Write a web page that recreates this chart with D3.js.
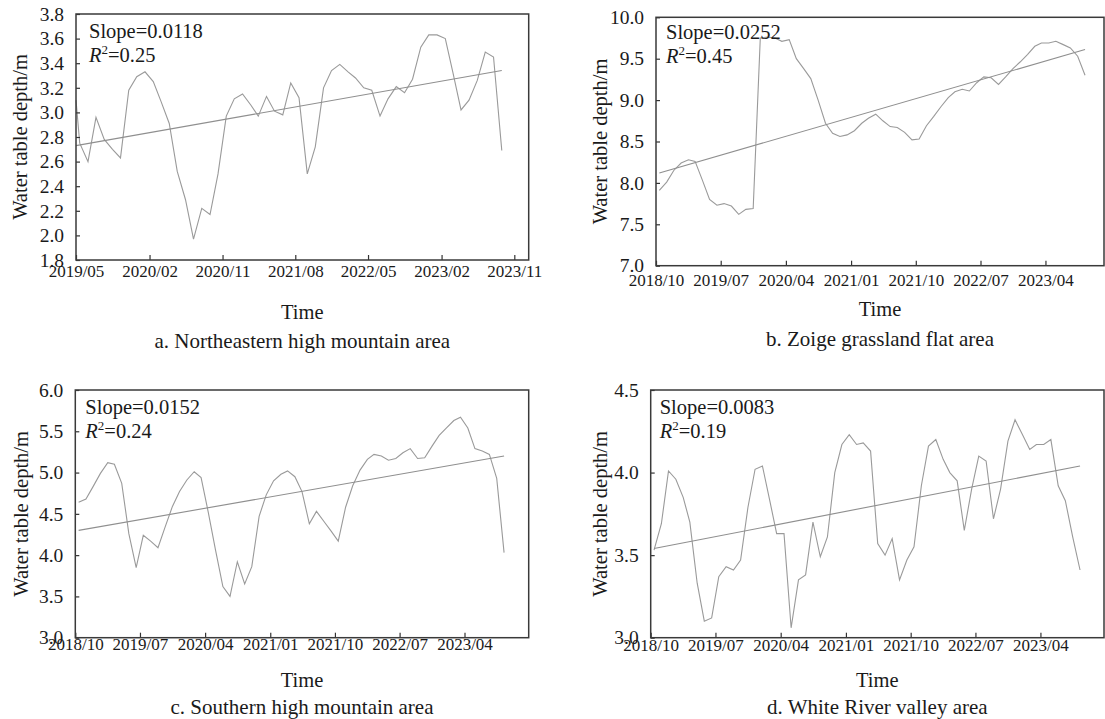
<!DOCTYPE html>
<html><head><meta charset="utf-8">
<script src="https://cdn.jsdelivr.net/npm/d3@7"></script>
<style>
body{margin:0;background:#fff;}
svg text{font-family:"Liberation Serif","Times New Roman",serif;fill:#1a1a1a;}
</style></head><body>
<svg id="chart" width="1105" height="719"></svg>
<script>
// ---------- data ----------
const aTickLabels = ["2019/05","2020/02","2020/11","2021/08","2022/05","2023/02","2023/11"];
const bcdTickLabels = ["2018/10","2019/07","2020/04","2021/01","2021/10","2022/07","2023/04"];

const aStart = "2019/05";
const aLead = {date: "2019/05/01", value: 3.10};
const aValues = [2.75,2.60,2.96,2.78,2.70,2.63,3.18,3.29,3.33,3.25,3.09,2.91,2.52,2.29,1.97,2.22,2.17,2.50,
  2.97,3.11,3.15,3.06,2.97,3.13,3.01,2.98,3.24,3.12,2.50,2.72,3.20,3.34,3.39,3.33,3.28,3.20,3.18,2.97,
  3.11,3.21,3.16,3.27,3.53,3.63,3.63,3.60,3.33,3.02,3.10,3.26,3.49,3.45,2.69];
const aTrend = [2.73, 3.34];

const bStart = "2018/10";
const bValues = [7.91,8.01,8.15,8.24,8.28,8.26,8.03,7.80,7.73,7.75,7.72,7.62,7.68,7.69,9.75,9.76,9.75,9.71,
  9.73,9.50,9.38,9.26,9.00,8.72,8.60,8.56,8.58,8.63,8.72,8.78,8.83,8.75,8.68,8.67,8.61,8.52,8.53,8.69,
  8.80,8.92,9.03,9.10,9.13,9.11,9.21,9.28,9.27,9.19,9.28,9.38,9.46,9.55,9.65,9.69,9.69,9.71,9.67,9.63,9.53,9.30];
const bTrend = [8.12, 9.61];

const cStart = "2018/10";
const cValues = [4.64,4.68,4.83,4.99,5.12,5.10,4.87,4.26,3.85,4.24,4.17,4.09,4.34,4.59,4.77,4.91,5.01,4.94,
  4.51,4.06,3.62,3.50,3.92,3.65,3.86,4.47,4.73,4.90,4.98,5.02,4.95,4.77,4.38,4.53,4.41,4.29,4.17,4.58,
  4.84,5.03,5.16,5.22,5.20,5.15,5.17,5.24,5.29,5.17,5.18,5.32,5.45,5.54,5.63,5.67,5.54,5.29,5.26,5.22,4.93,4.03];
const cTrend = [4.30, 5.20];

const dStart = "2018/10";
const dValues = [3.53,3.69,4.01,3.96,3.85,3.70,3.33,3.10,3.12,3.37,3.43,3.41,3.47,3.79,4.02,4.04,3.83,3.63,
  3.63,3.06,3.35,3.38,3.70,3.49,3.61,4.00,4.17,4.23,4.17,4.18,4.13,3.57,3.50,3.60,3.35,3.47,3.55,3.92,
  4.16,4.20,4.08,4.00,3.95,3.65,3.90,4.10,4.07,3.72,3.90,4.19,4.32,4.23,4.14,4.17,4.17,4.20,3.92,3.83,3.61,3.41];
const dTrend = [3.54, 4.04];

const slopes = ["0.0118","0.0252","0.0152","0.0083"];
const r2s = ["0.25","0.45","0.24","0.19"];
const captions = ["a. Northeastern high mountain area","b. Zoige grassland flat area",
  "c. Southern high mountain area","d. White River valley area"];
const yDomains = [[1.8,3.8],[7.0,10.0],[3.0,6.0],[3.0,4.5]];
const yTickSteps = [0.2,0.5,0.5,0.5];

// ---------- layout ----------
const panels = [
  {ticks:aTickLabels, start:aStart, lead:aLead, values:aValues, trend:aTrend, xEnd:"2023/12/25",
   l:76, r:528.7, t:14, b:260, tickY:277, timeY:319, capY:348, ylabX:27, txtDx:13, txtDy:24},
  {ticks:bcdTickLabels, start:bStart, lead:null, values:bValues, trend:bTrend, xEnd:"2023/12/04",
   l:656, r:1104, t:17.3, b:265.7, tickY:286, timeY:316, capY:346, ylabX:607, txtDx:10, txtDy:22},
  {ticks:bcdTickLabels, start:cStart, lead:null, values:cValues, trend:cTrend, xEnd:"2023/12/28",
   l:75.3, r:528.7, t:390, b:637.7, tickY:650, timeY:687, capY:714, ylabX:28, txtDx:10, txtDy:24},
  {ticks:bcdTickLabels, start:dStart, lead:null, values:dValues, trend:dTrend, xEnd:"2023/12/25",
   l:650.7, r:1104, t:390, b:637.7, tickY:651, timeY:687, capY:714, ylabX:607, txtDx:9, txtDy:24}
];

const svg = d3.select("#chart");
svg.append("rect").attr("width",1105).attr("height",719).attr("fill","#fff");

const parseYM = d3.timeParse("%Y/%m");
const parseYMD = d3.timeParse("%Y/%m/%d");
const FONT = "Liberation Serif, Times New Roman, serif";

panels.forEach((p, k) => {
  const g = svg.append("g");
  const x0 = parseYM(p.ticks[0]);
  const x = d3.scaleTime().domain([x0, parseYMD(p.xEnd)]).range([p.l, p.r]);
  const y = d3.scaleLinear().domain(yDomains[k]).range([p.b, p.t]);
  const s = parseYM(p.start);
  const pts = p.values.map((v,i) => ({date:new Date(s.getFullYear(), s.getMonth()+i, 15), value:v}));
  if (p.lead) pts.unshift({date:parseYMD(p.lead.date), value:p.lead.value});

  const line = d3.line().x(d=>x(d.date)).y(d=>y(d.value));
  g.append("path").datum(pts).attr("d",line)
    .attr("fill","none").attr("stroke","#9a9a9a").attr("stroke-width",1.1);

  const tr = [{date:pts[0].date, value:p.trend[0]},{date:pts[pts.length-1].date, value:p.trend[1]}];
  g.append("path").datum(tr).attr("d",line)
    .attr("fill","none").attr("stroke","#8f8f8f").attr("stroke-width",1.1);

  // axes
  const [y0,y1] = yDomains[k];
  const n = Math.round((y1-y0)/yTickSteps[k]);
  const yt = d3.range(n+1).map(i => +(y0 + i*yTickSteps[k]).toFixed(2));
  const ya = g.append("g").attr("transform",`translate(${p.l},0)`)
    .call(d3.axisLeft(y).tickValues(yt).tickSizeInner(-4).tickSizeOuter(0).tickPadding(12).tickFormat(d3.format(".1f")));
  ya.select(".domain").remove();
  ya.selectAll("line").attr("stroke","#333").attr("stroke-width",1.2);
  ya.selectAll("text").attr("font-size",19.5).attr("fill","#1a1a1a").attr("font-family",FONT);

  const xt = p.ticks.map(t => parseYM(t));
  const xa = g.append("g").attr("transform",`translate(0,${p.b})`)
    .call(d3.axisBottom(x).tickValues(xt).tickSizeInner(-5).tickSizeOuter(0).tickFormat((d,i)=>p.ticks[i]));
  xa.select(".domain").remove();
  xa.selectAll("line").attr("stroke","#333").attr("stroke-width",1.2);
  xa.selectAll("text").attr("font-size",17).attr("fill","#1a1a1a").attr("font-family",FONT)
    .attr("y", p.tickY - p.b).attr("dy", null);

  // frame
  g.append("rect").attr("x",p.l).attr("y",p.t).attr("width",p.r-p.l).attr("height",p.b-p.t)
    .attr("fill","none").attr("stroke","#3a3a3a").attr("stroke-width",1.5);

  // labels
  g.append("text").attr("transform",`translate(${p.ylabX},${(p.t+p.b)/2}) rotate(-90)`)
    .attr("text-anchor","middle").attr("font-size",20.5).text("Water table depth/m");
  g.append("text").attr("x",(p.l+p.r)/2).attr("y",p.timeY).attr("text-anchor","middle")
    .attr("font-size",20.5).text("Time");
  g.append("text").attr("x",(p.l+p.r)/2).attr("y",p.capY).attr("text-anchor","middle")
    .attr("font-size",21).text(captions[k]);

  g.append("text").attr("x",p.l+p.txtDx).attr("y",p.t+p.txtDy).attr("font-size",20.5).text("Slope=" + slopes[k]);
  const r = g.append("text").attr("x",p.l+p.txtDx).attr("y",p.t+p.txtDy+24).attr("font-size",20.5);
  r.append("tspan").attr("font-style","italic").text("R");
  r.append("tspan").attr("font-size",13).attr("dy",-8).text("2");
  r.append("tspan").attr("dy",8).text("=" + r2s[k]);
});
</script>
</body></html>
